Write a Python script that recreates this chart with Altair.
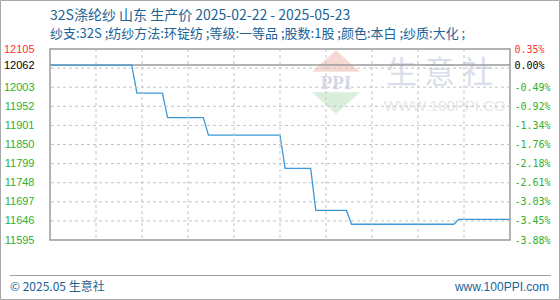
import altair as alt
import pandas as pd

# Price series (yuan/ton): change points of the daily quote
dates = ["2025-02-22", "2025-03-10", "2025-03-11", "2025-03-16", "2025-03-17",
         "2025-03-24", "2025-03-25", "2025-04-08", "2025-04-09", "2025-04-14",
         "2025-04-15", "2025-04-21", "2025-04-22", "2025-05-12", "2025-05-13",
         "2025-05-23"]
prices = [12062, 12062, 11987, 11987, 11922, 11922, 11875, 11875, 11786, 11786,
          11674, 11674, 11637, 11637, 11650, 11650]

start_date = "2025-02-22"
base_price = 12062
y_min, y_max = 11595, 12105

left_ticks = [11595, 11646, 11697, 11748, 11799, 11850, 11901, 11952, 12003, 12062, 12105]
right_labels = ["-3.88%", "-3.45%", "-3.03%", "-2.61%", "-2.18%", "-1.76%",
                "-1.34%", "-0.92%", "-0.49%", "0.00%", "0.35%"]
grid_y = [11646, 11697, 11748, 11799, 11850, 11901, 11952, 12003, 12054]

x_ticks = [0, 9, 18, 27, 36, 45, 54, 63, 72, 81, 90]
x_labels = ["02/22", "03/03", "03/12", "03/21", "03/30", "04/08",
            "04/17", "04/26", "05/05", "05/14", "05/23"]

title_text = "32S涤纶纱 山东 生产价 2025-02-22 - 2025-05-23"
subtitle_text = "纱支:32S ;纺纱方法:环锭纺 ;等级:一等品 ;股数:1股 ;颜色:本白 ;纱质:大化 ;"
footer_left = "© 2025.05 生意社"
footer_right = "www.100PPI.com"

W, H = 460, 191
CJK = "Noto Sans CJK SC"
TEXT_BLUE = "#1b6396"
GRID = "#c4c4c4"

day = (pd.to_datetime(dates) - pd.Timestamp(start_date)).days
df = pd.DataFrame({"day": list(day), "price": prices})

x_scale = alt.Scale(domain=[0, 90], nice=False, zero=False)
y_scale = alt.Scale(domain=[y_min, y_max], nice=False, zero=False)


def lookup_expr(values, labels):
    expr = "''"
    for v, lab in zip(reversed(values), reversed(labels)):
        expr = f"datum.value == {v} ? '{lab}' : ({expr})"
    return expr


label_color = {
    "condition": [
        {"test": f"datum.value == {y_max}", "value": "#ff3333"},
        {"test": f"datum.value == {base_price}", "value": "#000000"},
    ],
    "value": "#2fb02f",
}

x_axis = alt.Axis(values=x_ticks, labelExpr=lookup_expr(x_ticks, x_labels),
                  labelFont="DejaVu Sans Mono", labelFontSize=10, labelColor=TEXT_BLUE,
                  labelPadding=10, ticks=False, domain=False,
                  grid=True, gridColor=GRID, gridDash=[3, 3], gridWidth=1, zindex=1,
                  labelOverlap=False, labelFlush=False, title=None)

left_axis = alt.Axis(values=left_ticks, format="d", labelFont="Liberation Sans",
                     labelFontSize=11, labelColor=label_color, labelPadding=16,
                     ticks=False, domain=False, grid=False, labelOverlap=False,
                     labelFlush=False, title=None)

right_axis = alt.Axis(values=left_ticks, orient="right",
                      labelExpr=lookup_expr(left_ticks, right_labels),
                      labelFont="DejaVu Sans Mono", labelFontSize=10,
                      labelColor=label_color, labelPadding=4, labelAlign="left",
                      ticks=False, domain=False, grid=False, labelOverlap=False,
                      labelFlush=False, title=None)

# dashed grid
vgrid = alt.Chart(pd.DataFrame({"gx": x_ticks[1:-1]})).mark_rule(
    color=GRID, strokeDash=[3, 3], strokeWidth=1
).encode(x=alt.X("gx:Q", scale=x_scale, axis=None))

hgrid = alt.Chart(pd.DataFrame({"gy": grid_y})).mark_rule(
    color=GRID, strokeDash=[3, 3], strokeWidth=1
).encode(y=alt.Y("gy:Q", scale=y_scale, axis=None))

# watermark
wm_up = alt.Chart(pd.DataFrame({"a": [0]})).mark_point(
    shape="M-1,0.45L1,0.45L0,-0.45Z", filled=True, size=2300, color="#f7d9d4", opacity=1
).encode(x=alt.value(286), y=alt.value(12))
wm_down = alt.Chart(pd.DataFrame({"a": [0]})).mark_point(
    shape="M-1,-0.45L1,-0.45L0,0.45Z", filled=True, size=2300, color="#d9eedb", opacity=1
).encode(x=alt.value(286), y=alt.value(54))
wm_ppi = alt.Chart(pd.DataFrame({"t": ["PPI"]})).mark_text(
    font="Liberation Serif", fontSize=19, fontWeight="bold", color="#d3d9ea",
    align="center", baseline="middle"
).encode(x=alt.value(286), y=alt.value(34), text="t:N")
wm_name = alt.Chart(pd.DataFrame({"t": ["生  意  社"]})).mark_text(
    font=CJK, fontSize=31, color="#d8deea", align="left", baseline="middle"
).encode(x=alt.value(336), y=alt.value(25), text="t:N")
wm_url = alt.Chart(pd.DataFrame({"t": ["WWW.100PPI.CO"]})).mark_text(
    font="Liberation Sans", fontSize=15, color="#e6e6e6", align="left", baseline="middle"
).encode(x=alt.value(334), y=alt.value(57), text="t:N")

ref_line = alt.Chart(pd.DataFrame({"price": [base_price]})).mark_rule(
    color="#9a9a9a", strokeWidth=1.5
).encode(y=alt.Y("price:Q", scale=y_scale, axis=None))

line = alt.Chart(df).mark_line(color="#3c98d6", strokeWidth=1.3).encode(
    x=alt.X("day:Q", scale=x_scale, axis=x_axis),
    y=alt.Y("price:Q", scale=y_scale, axis=left_axis),
)

right = alt.Chart(df).mark_line(opacity=0).encode(
    x=alt.X("day:Q", scale=x_scale, axis=None),
    y=alt.Y("price:Q", scale=y_scale, axis=right_axis),
)

title = alt.Chart(pd.DataFrame({"t": [title_text]})).mark_text(
    font=CJK, fontSize=14, color=TEXT_BLUE, align="left", baseline="middle"
).encode(x=alt.value(0), y=alt.value(-33), text="t:N")
subtitle = alt.Chart(pd.DataFrame({"t": [subtitle_text]})).mark_text(
    font=CJK, fontSize=13, color=TEXT_BLUE, align="left", baseline="middle"
).encode(x=alt.value(0), y=alt.value(-15), text="t:N")

sep = alt.Chart(pd.DataFrame({"a": [0]})).mark_rule(color="#a0a0a0", strokeWidth=1).encode(
    x=alt.value(-40), x2=alt.value(501), y=alt.value(226.5)
)
foot_l = alt.Chart(pd.DataFrame({"t": [footer_left]})).mark_text(
    font=CJK, fontSize=12, color=TEXT_BLUE, align="left", baseline="middle"
).encode(x=alt.value(-40), y=alt.value(238), text="t:N")
foot_r = alt.Chart(pd.DataFrame({"t": [footer_right]})).mark_text(
    font="Liberation Sans", fontSize=12, color=TEXT_BLUE, align="right", baseline="middle"
).encode(x=alt.value(499), y=alt.value(238), text="t:N")

# plot border and outer frame
plot_box = alt.Chart(pd.DataFrame({"a": [0]})).mark_rect(
    fill=None, stroke="#9a9a9a", strokeWidth=1.5
).encode(x=alt.value(0), x2=alt.value(W), y=alt.value(0), y2=alt.value(H))
frame = alt.Chart(pd.DataFrame({"a": [0]})).mark_rect(
    fill=None, stroke="#a8a8a8", strokeWidth=1
).encode(x=alt.value(-49.5), x2=alt.value(509.5), y=alt.value(-48.5), y2=alt.value(250.5))

chart = alt.layer(
    wm_up, wm_down, wm_ppi, wm_name, wm_url, ref_line, line, right,
    title, subtitle, sep, foot_l, foot_r, plot_box, frame, vgrid, hgrid
).resolve_scale(y="independent").properties(
    width=W, height=H,
    autosize=alt.AutoSizeParams(type="none"),
    padding={"left": 50, "top": 49, "right": 50, "bottom": 60},
    background="white",
).configure_view(strokeWidth=0)

chart.save("out.html", embed_options={"renderer": "svg", "actions": False})
